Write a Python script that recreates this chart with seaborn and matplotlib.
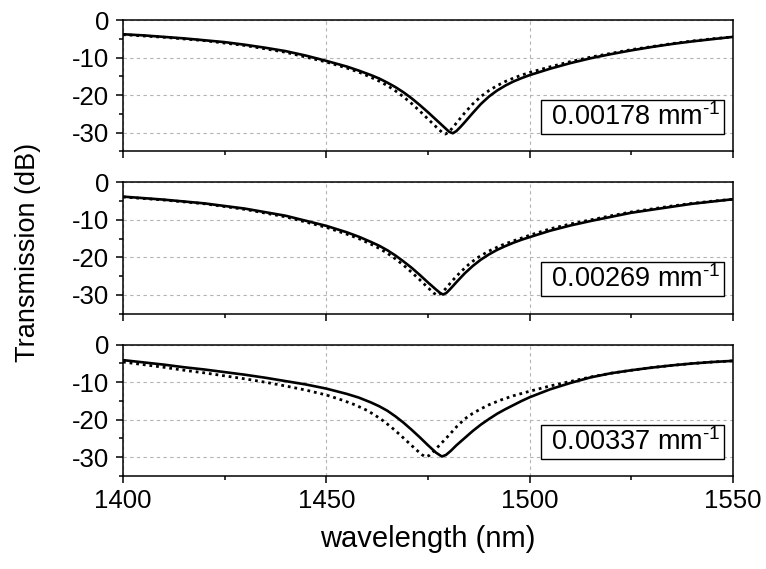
import matplotlib
matplotlib.use("Agg")
import matplotlib.pyplot as plt
import pandas as pd
import seaborn as sns
from matplotlib.ticker import MultipleLocator, FixedLocator

# Coupling coefficient shown in each panel
kappa_labels = ["0.00178", "0.00269", "0.00337"]

# ---------- panel 1 ----------
wl_solid_1 = [1400, 1405, 1410, 1415, 1420, 1425, 1430, 1435, 1440, 1445, 1450, 1455,
              1458, 1461, 1463, 1465, 1467, 1469, 1471, 1473, 1475, 1477, 1479, 1480.2,
              1481.1, 1482, 1483, 1484, 1486, 1488, 1490, 1492, 1494, 1496, 1498, 1500,
              1505, 1510, 1515, 1520, 1525, 1530, 1535, 1540, 1545, 1550]
tr_solid_1 = [-3.8, -4.1, -4.5, -4.9, -5.4, -5.9, -6.6, -7.4, -8.3, -9.5, -10.9, -12.4,
              -13.5, -14.7, -15.6, -16.7, -17.9, -19.3, -20.9, -22.7, -24.6, -26.6, -28.6, -29.8,
              -30.2, -29.6, -28.5, -27.3, -24.8, -22.4, -20.4, -18.8, -17.5, -16.4, -15.5, -14.7,
              -13.0, -11.5, -10.2, -9.1, -8.1, -7.2, -6.4, -5.7, -5.1, -4.5]
wl_dot_1 = [1400, 1410, 1420, 1430, 1440, 1450, 1455, 1458, 1461, 1463, 1465, 1467,
            1469, 1471, 1473, 1475, 1477, 1478.4, 1479.3, 1480.2, 1481.2, 1482.5, 1484,
            1486, 1488, 1490, 1492, 1494, 1496, 1498, 1500, 1505, 1510, 1515, 1520, 1525,
            1530, 1535, 1540, 1545, 1550]
tr_dot_1 = [-3.9, -4.6, -5.5, -6.8, -8.6, -11.2, -12.8, -13.9, -15.3, -16.3, -17.5, -18.9,
            -20.5, -22.3, -24.3, -26.4, -28.5, -29.9, -30.4, -29.8, -28.5, -26.8, -24.8,
            -22.4, -20.4, -18.8, -17.5, -16.4, -15.5, -14.7, -14.0, -12.5, -11.1, -9.9, -8.9, -7.9,
            -7.1, -6.3, -5.6, -5.0, -4.5]

# ---------- panel 2 ----------
wl_solid_2 = [1400, 1410, 1420, 1430, 1440, 1450, 1455, 1458, 1461, 1463, 1465, 1467,
              1469, 1471, 1473, 1475, 1477, 1478, 1478.7, 1479.5, 1480.5, 1482, 1484, 1486,
              1488, 1490, 1492, 1494, 1496, 1498, 1500, 1505, 1510, 1515, 1520, 1525, 1530,
              1535, 1540, 1545, 1550]
tr_solid_2 = [-3.8, -4.6, -5.6, -7.0, -8.9, -11.6, -13.3, -14.5, -15.9, -16.9, -18.1, -19.5,
              -21.1, -22.8, -24.7, -26.7, -28.6, -29.5, -29.9, -29.5, -28.4, -26.6, -24.3, -22.3,
              -20.6, -19.2, -18.0, -17.0, -16.1, -15.3, -14.6, -12.9, -11.5, -10.3, -9.2, -8.1, -7.3,
              -6.5, -5.7, -5.1, -4.5]
wl_dot_2 = [1400, 1410, 1420, 1430, 1440, 1450, 1455, 1458, 1461, 1463, 1465, 1467,
            1469, 1471, 1473, 1475, 1476.5, 1477.3, 1478.2, 1479.3, 1481, 1483, 1485, 1487,
            1490, 1493, 1496, 1500, 1505, 1510, 1515, 1520, 1525, 1530, 1535, 1540, 1545, 1550]
tr_dot_2 = [-3.9, -4.7, -5.7, -7.2, -9.2, -12.0, -13.8, -15.0, -16.5, -17.6, -18.9, -20.4,
            -22.1, -24.0, -26.0, -28.1, -29.6, -30.1, -29.6, -28.4, -26.2, -23.9, -21.9, -20.2,
            -18.3, -16.8, -15.6, -14.1, -12.4, -11.1, -10.0, -8.9, -7.9, -7.1, -6.3, -5.6, -5.0, -4.5]

# ---------- panel 3 ----------
wl_solid_3 = [1400, 1405, 1410, 1415, 1420, 1425, 1430, 1435, 1440, 1445, 1450, 1455,
              1458, 1461, 1463, 1465, 1467, 1469, 1471, 1473, 1475, 1477, 1478.4, 1479.4,
              1480.5, 1482, 1484, 1486, 1488, 1490, 1492, 1494, 1496, 1498, 1500, 1505,
              1510, 1515, 1520, 1525, 1530, 1535, 1540, 1545, 1550]
tr_solid_3 = [-4.1, -4.7, -5.3, -6.0, -6.6, -7.3, -8.0, -8.8, -9.7, -10.6, -11.7, -13.1,
              -14.1, -15.4, -16.4, -17.6, -19.1, -20.8, -22.7, -24.7, -26.8, -28.8, -29.8, -29.4,
              -28.4, -26.8, -24.9, -23.0, -21.3, -19.8, -18.4, -17.2, -16.1, -15.0, -14.0, -11.9,
              -10.2, -8.7, -7.6, -6.8, -6.1, -5.5, -5.0, -4.6, -4.3]
wl_dot_3 = [1400, 1405, 1410, 1415, 1420, 1425, 1430, 1435, 1440, 1445, 1450, 1454,
            1457, 1460, 1462, 1464, 1466, 1468, 1470, 1472, 1473.5, 1474.3, 1475.2, 1476.2,
            1478, 1480, 1482, 1484, 1486, 1488, 1490, 1493, 1496, 1500, 1505, 1510, 1515,
            1520, 1525, 1530, 1535, 1540, 1545, 1550]
tr_dot_3 = [-4.6, -5.3, -6.0, -6.8, -7.5, -8.3, -9.1, -10.0, -11.0, -12.1, -13.4, -14.8,
            -16.0, -17.5, -18.8, -20.3, -22.0, -23.9, -25.9, -27.9, -29.3, -29.9, -29.6, -28.6,
            -26.6, -24.3, -21.9, -19.8, -18.3, -17.1, -16.0, -14.7, -13.6, -12.4, -11.0, -9.8, -8.6,
            -7.6, -6.8, -6.1, -5.5, -5.0, -4.6, -4.3]

panels = [
    (wl_solid_1, tr_solid_1, wl_dot_1, tr_dot_1),
    (wl_solid_2, tr_solid_2, wl_dot_2, tr_dot_2),
    (wl_solid_3, tr_solid_3, wl_dot_3, tr_dot_3),
]

x_ticks = [1400, 1450, 1500, 1550]
y_ticks = [0, -10, -20, -30]

sns.set_theme(style="white")
plt.rcParams["font.family"] = ["Liberation Sans", "DejaVu Sans"]
plt.rcParams["mathtext.fontset"] = "custom"
plt.rcParams["mathtext.rm"] = "Liberation Sans"
plt.rcParams["mathtext.it"] = "Liberation Sans:italic"
plt.rcParams["axes.unicode_minus"] = False

fig, axes = plt.subplots(3, 1, figsize=(7.66, 5.69), dpi=100, sharex=True)
fig.subplots_adjust(left=123 / 766, right=733 / 766, top=1 - 20 / 569,
                    bottom=1 - 476 / 569, hspace=0.237)

for ax, (ws, ts, wd, td), kap in zip(axes, panels, kappa_labels):
    solid = pd.DataFrame({"wavelength": ws, "transmission": ts})
    dotted = pd.DataFrame({"wavelength": wd, "transmission": td})
    sns.lineplot(data=solid, x="wavelength", y="transmission", ax=ax,
                 color="black", linewidth=1.9, zorder=3)
    sns.lineplot(data=dotted, x="wavelength", y="transmission", ax=ax,
                 color="black", linewidth=2.0, linestyle=(0, (1, 1.4)), zorder=3)

    ax.set_xlim(1400, 1550)
    ax.set_ylim(-35, 0)
    ax.xaxis.set_major_locator(FixedLocator(x_ticks))
    ax.xaxis.set_minor_locator(MultipleLocator(25))
    ax.yaxis.set_major_locator(FixedLocator(y_ticks))
    ax.yaxis.set_minor_locator(MultipleLocator(5))
    ax.set_yticklabels([str(v) for v in y_ticks])

    ax.set_axisbelow(True)
    ax.grid(True, which="major", color="#b4b4b4", linestyle=(0, (3, 3)), linewidth=0.8)
    for sp in ax.spines.values():
        sp.set_visible(True)
        sp.set_color("black")
        sp.set_linewidth(1.1)

    ax.tick_params(axis="both", which="major", direction="out", length=5, width=1.1,
                   color="black", labelsize=18.5, labelcolor="black",
                   top=False, right=False, bottom=True, left=True)
    ax.tick_params(axis="both", which="minor", direction="out", length=3, width=1.1,
                   color="black", top=False, right=False, bottom=True, left=True)
    ax.tick_params(axis="y", which="major", pad=5)
    ax.tick_params(axis="x", which="major", pad=4)
    ax.set_xlabel("")
    ax.set_ylabel("")

    ax.text(0.980, 0.201, " " + kap + r" mm$^{\text{-1}}$", transform=ax.transAxes,
            ha="right", va="baseline", fontsize=19.5, color="black", zorder=5,
            bbox=dict(boxstyle="square,pad=0.12", facecolor="white",
                      edgecolor="black", linewidth=1.0))

axes[2].set_xticklabels([str(v) for v in x_ticks])
axes[2].set_xlabel("wavelength (nm)", fontsize=21, labelpad=9, color="black")
fig.text(28 / 766, 1 - 252 / 569, "Transmission (dB)", rotation=90,
         ha="center", va="center", fontsize=19.5, color="black")

fig.savefig("out.png", dpi=100)
